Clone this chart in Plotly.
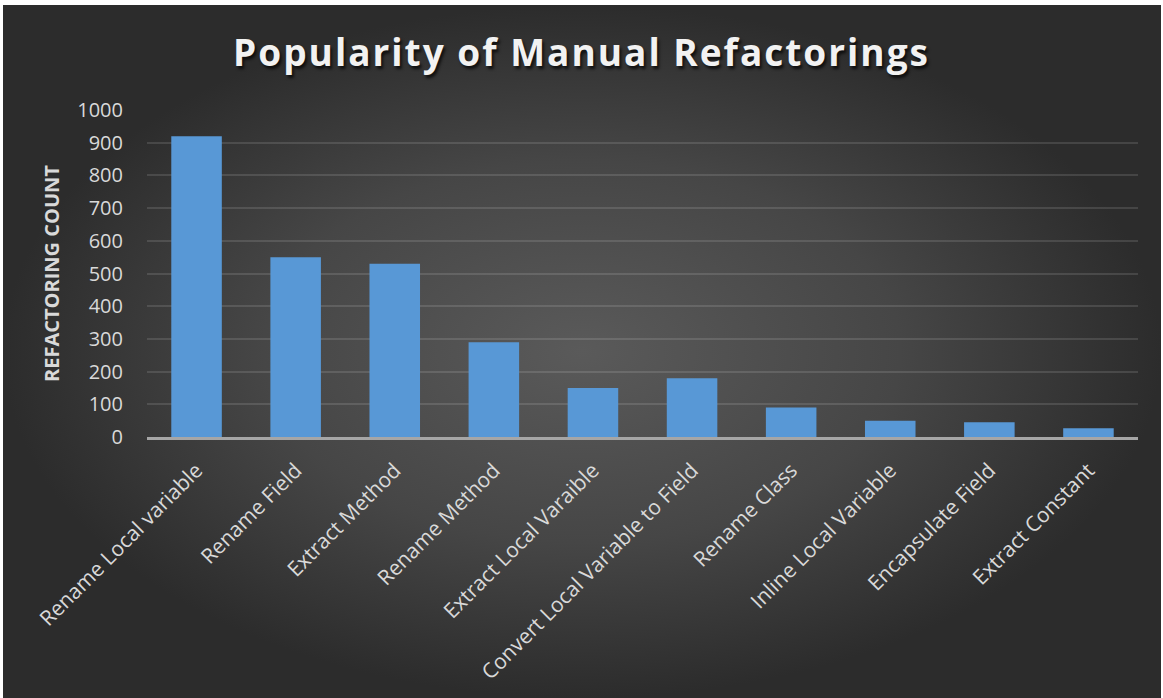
import plotly.graph_objects as go

categories = [
    "Rename Local variable", "Rename Field", "Extract Method", "Rename Method",
    "Extract Local Varaible", "Convert Local Variable to Field", "Rename Class",
    "Inline Local Variable", "Encapsulate Field", "Extract Constant",
]
counts = [920, 550, 530, 290, 150, 180, 90, 50, 45, 27]
y_ticks = [0, 100, 200, 300, 400, 500, 600, 700, 800, 900, 1000]

W, H = 1163, 698
FONT = "Open Sans"

fig = go.Figure()

# background panel with radial gradient (hidden full-page axes)
fig.add_trace(go.Scatter(
    x=[3 / W, 1161 / W, 1161 / W, 3 / W, 3 / W],
    y=[0, 0, 1 - 5 / H, 1 - 5 / H, 0],
    mode="lines", line=dict(width=0), fill="toself",
    fillgradient=dict(type="radial",
                      colorscale=[[0, "#5a5a5a"], [0.55, "#464646"], [1, "#2c2c2c"]]),
    hoverinfo="skip", showlegend=False, xaxis="x", yaxis="y",
))

fig.add_trace(go.Bar(
    x=categories, y=counts, xaxis="x2", yaxis="y2",
    marker=dict(color="#5898d6", line=dict(width=0)),
    width=0.51, showlegend=False,
))

fig.update_layout(
    width=W, height=H,
    margin=dict(l=0, r=0, t=0, b=0, autoexpand=False),
    paper_bgcolor="white", plot_bgcolor="rgba(0,0,0,0)",
    font=dict(family=FONT, color="#d9d9d9"),
    title=dict(
        text='<span style="letter-spacing:2px">Popularity of Manual Refactorings</span>',
        x=0.5, xanchor="center", y=1 - 53 / H, yanchor="middle",
        font=dict(family=FONT, size=37, color="#f2f2f2", weight="bold",
                  shadow="2px 3px 3px rgba(0,0,0,0.7)"),
    ),
    xaxis=dict(domain=[0, 1], range=[0, 1], visible=False, fixedrange=True),
    yaxis=dict(domain=[0, 1], range=[0, 1], visible=False, fixedrange=True),
    xaxis2=dict(
        domain=[147 / W, 1138 / W], anchor="y2", automargin=False,
        tickangle=-45, tickfont=dict(size=21, color="#d9d9d9"),
        showgrid=False, showline=True, linecolor="#a6a6a6", linewidth=2.5,
        ticks="outside", ticklen=10, tickcolor="rgba(0,0,0,0)",
    ),
    yaxis2=dict(
        domain=[1 - 437 / H, 1 - 110 / H], anchor="x2", automargin=False,
        range=[0, 1000], tickvals=y_ticks,
        tickfont=dict(size=20, color="#d9d9d9"),
        showgrid=True, gridcolor="rgba(255,255,255,0.12)", gridwidth=1.5,
        zeroline=False, showline=False,
        ticks="outside", ticklen=19, tickcolor="rgba(0,0,0,0)",
        title=dict(text="REFACTORING COUNT", standoff=12,
                   font=dict(size=20, color="#d9d9d9", weight="bold")),
    ),
)

fig.write_html("out.html")
